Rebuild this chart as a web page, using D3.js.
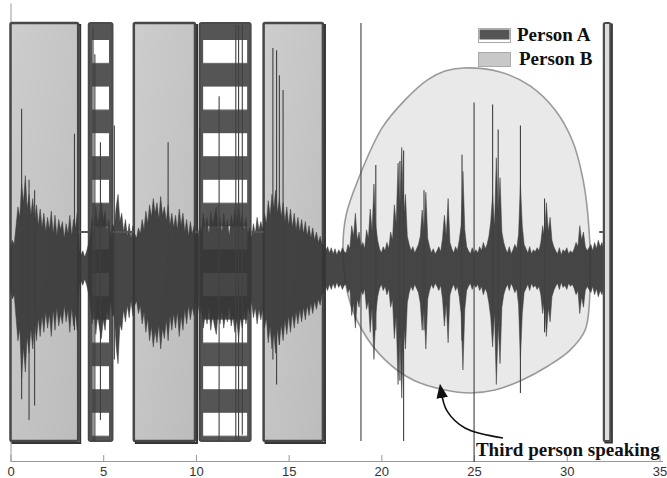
<!DOCTYPE html>
<html><head><meta charset="utf-8">
<script src="https://cdn.jsdelivr.net/npm/d3@7"></script>
<style>html,body{margin:0;padding:0;background:#fff;} svg{display:block}</style>
</head><body><svg id="c" width="667" height="478"></svg>
<script>
// ---------------- data ----------------
const xTicks = [0, 5, 10, 15, 20, 25, 30, 35];
const yTicks = [-1, -0.8, -0.6, -0.4, -0.2, 0, 0.2, 0.4, 0.6, 0.8, 1];
const legendLabels = ["Person A", "Person B"];
const annotationText = "Third person speaking";

// speaker label segments [start s, end s]
const personBSegments = [[0, 3.65], [6.65, 9.95], [13.65, 16.85]];
const personASegments = [[4.22, 5.5], [10.2, 12.95]];
const personANarrow = [[32.0, 32.35]];
const silenceSegments = [[3.65, 4.22], [5.5, 6.65], [9.95, 10.2], [12.95, 13.65], [31.75, 32.0]];

// waveform envelope, one value per 0.1 s from 0 s, amplitude in 1/200 of full scale
const waveStep = 0.1;
const waveCenter = -0.17;
const waveUp = [
 18,26,22,40,58,48,80,62,88,56, 70,50,66,44,60,40,56,38,52,34, 48,36,54,32,50,30,46,36,44,28, 42,32,50,30,46,38,52,
 18,12,16,10,15,22,
 30,48,36,58,40,52,62,44,54,36,46,28,42,
 38,58,70,44,52,34,46,30,42,28,40,32,
 28,38,32,46,36,54,42,60,48,66, 52,62,46,68,50,58,44,60,40,52, 38,50,36,56,40,52,34,46,30,44, 32,40,30,
 28,40,34,52,38,48,32,54,40,50, 58,36,48,34,52,38,46,30,50,40, 56,44,62,42,52,36,48,32,38,
 28,42,32,48,36,44,
 36,52,42,64,50,70,56,74,52,66, 48,62,44,58,40,56,38,52,36,48, 34,46,32,44,30,40,28,38,26,34, 24,30,22,
 22,16,20,14,19,13,18,12,17,14,19,15,
 14,22,18,40,30,52,26,34,20,
 24,18,36,28,56,34,80,40,26,18,
 14,20,16,24,18,34,26,
 60,42,100,55,115,48,70,30,22,
 16,20,14,18,22,
 30,55,34,72,28,20,
 14,18,13,16,20,15,
 28,50,30,66,24,18,
 14,20,16,26,
 40,92,36,20,
 16,13,19,14,17,
 14,20,16,24,18,22,30,
 44,70,38,105,50,86,34,24,
 18,14,20,13,17,22,18,
 32,80,40,22,
 18,14,20,13,17,15,19,16,
 24,40,28,62,34,48,26,20,
 16,13,19,12,17,15,19,13,16,14,
 18,24,20,40,26,34,20,16,19,
 22,16,24,18,26,20,24,16,20,14,10
];
const waveDown = [
 20,30,26,48,70,58,105,76,100,66, 82,58,78,52,70,48,66,46,62,42, 58,44,66,40,60,38,56,44,54,36, 52,40,62,38,56,44,60,
 18,13,17,11,16,24,
 34,54,40,64,46,58,68,50,60,40,50,32,46,
 46,76,92,54,60,40,52,36,48,32,46,36,
 32,44,36,54,42,62,48,70,56,76, 60,72,54,78,58,68,50,70,46,60, 44,58,42,66,46,60,40,54,36,50, 38,46,34,
 34,46,40,58,44,54,38,60,46,56, 64,42,54,40,58,44,52,36,56,46, 62,50,68,48,58,42,54,38,44,
 32,48,38,54,40,50,
 40,58,48,72,56,78,62,82,58,74, 54,70,50,64,46,62,44,58,42,54, 40,52,38,50,36,46,34,44,32,40, 30,36,26,
 24,18,22,16,21,15,20,14,19,16,21,17,
 16,24,20,46,34,58,30,38,22,
 26,20,40,32,62,38,88,44,28,20,
 16,22,18,26,20,38,30,
 68,46,112,60,125,54,78,34,24,
 18,22,16,20,24,
 34,60,38,78,30,22,
 16,20,15,18,22,17,
 30,56,34,72,26,20,
 16,22,18,28,
 44,98,40,22,
 18,15,21,16,19,
 16,22,18,26,20,24,34,
 48,76,42,112,54,92,38,26,
 20,16,22,15,19,24,20,
 36,88,44,24,
 20,16,22,15,19,17,21,18,
 26,44,30,66,38,52,28,22,
 18,15,21,14,19,17,21,15,18,16,
 20,26,22,44,28,38,22,18,21,
 24,18,26,20,28,22,26,18,22,16,12
];
const AMP_SCALE = 0.005;

// isolated tall peaks: [time s, top value, bottom value]
const spikes = [
 [0.6, 0.59, -0.80], [1.0, 0.25, -0.90], [1.3, 0.20, -0.83], [3.45, 0.47, -0.47],
 [4.45, 0.98, -1.0], [4.55, 0.85, -1.0], [4.85, 0.43, -0.90], [5.6, 0.51, -0.61],
 [8.5, 0.43, -0.47], [10.2, 0.50, -0.80], [11.25, 0.65, -1.0],
 [12.15, 0.99, -1.0], [12.3, 0.99, -1.0], [12.5, 0.99, -0.97],
 [14.15, 0.88, -0.61], [14.35, 0.87, -0.73], [14.5, 0.75, -0.54], [14.7, 0.68, -0.49],
 [18.9, 1.0, -1.0], [19.7, 0.32, -0.47], [21.0, 0.34, -0.71], [21.2, 0.39, -1.0],
 [22.3, 0.20, -0.47], [24.35, 0.37, -0.52], [25.0, 0.62, -1.10], [26.0, 0.61, -0.49],
 [26.3, 0.49, -0.42], [27.5, 0.51, -0.77], [28.8, 0.16, -0.48]
];

// third-person region outline [time s, value]
const thirdPersonOutline = [
 [24.41,0.785],[26.40,0.766],[28.02,0.699],[29.37,0.584],[30.29,0.44],[30.88,0.249],
 [31.20,0.01],[31.25,-0.278],[30.99,-0.469],[30.18,-0.565],[28.99,-0.641],[27.48,-0.713],
 [26.13,-0.756],[24.78,-0.770],[23.44,-0.756],[21.71,-0.708],[20.20,-0.612],[18.96,-0.469],
 [18.20,-0.301],[17.93,-0.086],[18.10,0.081],[18.74,0.249],[20.04,0.498],[21.28,0.632],
 [22.47,0.727],[23.43,0.770]
];
const arrowPath = [[26.56,-0.986],[24.51,-0.938],[23.54,-0.856],[23.22,-0.760]];
const annotationAt = [25.1, -1.072];

// ---------------- drawing ----------------
const svg = d3.select("#c");
const xs = d3.scaleLinear().domain([0, 35]).range([10.5, 659.5]);
const ys = d3.scaleLinear().domain([-1.0957, 1.0957]).range([461, 3]);
const defs = svg.append("defs");

const gB = defs.append("linearGradient").attr("id","gB").attr("x1","0").attr("y1","0").attr("x2","1").attr("y2","1");
gB.append("stop").attr("offset","0").attr("stop-color","#cdcdcd");
gB.append("stop").attr("offset","1").attr("stop-color","#bcbcbc");

const pat = defs.append("pattern").attr("id","stripes").attr("patternUnits","userSpaceOnUse")
  .attr("x",0).attr("y",40).attr("width",10).attr("height",46.6);
pat.append("rect").attr("x",0).attr("y",0).attr("width",10).attr("height",23).attr("fill","#fff");

const mk = defs.append("marker").attr("id","arr").attr("viewBox","0 0 10 10").attr("refX",5).attr("refY",5)
  .attr("markerWidth",9).attr("markerHeight",9).attr("orient","auto");
mk.append("path").attr("d","M0,1 L10,5 L0,9 Z").attr("fill","#111");

// axes
const xAxis = d3.axisBottom(xs).tickValues(xTicks).tickSizeInner(-6).tickSizeOuter(0).tickPadding(6);
const gx = svg.append("g").attr("transform","translate(0,461)").call(xAxis);
gx.select(".domain").attr("stroke","#999").attr("d","M10.5,0.5H663");
gx.selectAll(".tick line").attr("stroke","#999");
gx.selectAll(".tick text").attr("fill","#333").style("font-family","'Liberation Sans', Arial, sans-serif").style("font-size","13px");

const yAxis = d3.axisLeft(ys).tickValues(yTicks).tickSizeInner(-6).tickSizeOuter(0).tickFormat("");
const gy = svg.append("g").attr("transform","translate(10.5,0)").call(yAxis);
gy.select(".domain").attr("stroke","#999");
gy.selectAll(".tick line").attr("stroke","#888");

// Person B boxes
const bG = svg.append("g");
personBSegments.forEach(([a,b]) => {
  bG.append("rect").attr("x",xs(a)+2).attr("y",ys(1)+2).attr("width",xs(b)-xs(a)).attr("height",ys(-1)-ys(1))
    .attr("fill","none").attr("stroke","#333").attr("stroke-width",2);
  bG.append("rect").attr("x",xs(a)).attr("y",ys(1)).attr("width",xs(b)-xs(a)).attr("height",ys(-1)-ys(1))
    .attr("rx",1.5).attr("fill","url(#gB)").attr("stroke","#474747").attr("stroke-width",2.5);
});

// Person A boxes
const aG = svg.append("g");
personASegments.forEach(([a,b]) => {
  const x0 = xs(a), w = xs(b)-xs(a), y0 = ys(1), h = ys(-1)-ys(1);
  aG.append("rect").attr("x",x0).attr("y",y0).attr("width",w).attr("height",h).attr("rx",2)
    .attr("fill","#555");
  aG.append("rect").attr("x",x0+3.5).attr("y",y0).attr("width",w-7).attr("height",h)
    .attr("fill","url(#stripes)");
  aG.append("rect").attr("x",x0).attr("y",y0).attr("width",w).attr("height",h).attr("rx",2)
    .attr("fill","none").attr("stroke","#4a4a4a").attr("stroke-width",2);
});

// third person blob
svg.append("path").datum(thirdPersonOutline)
  .attr("d", d3.line().x(d=>xs(d[0])).y(d=>ys(d[1])).curve(d3.curveCatmullRomClosed))
  .attr("fill","#e9e9e9").attr("stroke","#9a9a9a").attr("stroke-width",1.6);

// waveform
const area = d3.area()
  .x((d,i)=>xs(i*waveStep))
  .y1((d,i)=>ys(waveCenter + waveUp[i]*AMP_SCALE))
  .y0((d,i)=>ys(waveCenter - waveDown[i]*AMP_SCALE));
svg.append("path").datum(waveUp).attr("d", area).attr("fill","#363636").attr("fill-opacity",0.92)
  .attr("stroke","#3a3a3a").attr("stroke-width",0.5);

// narrow Person A segment at the end (drawn over the waveform end)
const nG = svg.append("g");
personANarrow.forEach(([a,b]) => {
  nG.append("rect").attr("x",xs(a)+1.5).attr("y",ys(1)+1.5).attr("width",xs(b)-xs(a)).attr("height",ys(-1)-ys(1))
    .attr("fill","none").attr("stroke","#333").attr("stroke-width",2);
  nG.append("rect").attr("x",xs(a)).attr("y",ys(1)).attr("width",xs(b)-xs(a)).attr("height",ys(-1)-ys(1))
    .attr("rx",1.5).attr("fill","#ddd").attr("stroke","#4a4a4a").attr("stroke-width",2.2);
});

// silence label line
svg.append("g").selectAll("line").data(silenceSegments).join("line")
  .attr("x1",d=>xs(d[0])).attr("x2",d=>xs(d[1])).attr("y1",ys(0)).attr("y2",ys(0))
  .attr("stroke","#555").attr("stroke-width",2);

// spikes
svg.append("g").selectAll("line").data(spikes).join("line")
  .attr("x1",d=>xs(d[0])).attr("x2",d=>xs(d[0])).attr("y1",d=>ys(d[1])).attr("y2",d=>ys(d[2]))
  .attr("stroke","#404040").attr("stroke-width",1.1);

// annotation
svg.append("path").datum(arrowPath)
  .attr("d", d3.line().x(d=>xs(d[0])).y(d=>ys(d[1])).curve(d3.curveCatmullRom))
  .attr("fill","none").attr("stroke","#111").attr("stroke-width",1.6).attr("marker-end","url(#arr)");
svg.append("text").attr("x",xs(annotationAt[0])).attr("y",ys(annotationAt[1]))
  .text(annotationText).attr("fill","#111")
  .style("font-family","'Liberation Serif', 'Times New Roman', serif").style("font-weight","bold").style("font-size","19px");

// legend
const lg = svg.append("g");
lg.append("rect").attr("x",478.5).attr("y",28.5).attr("width",32).attr("height",14).attr("fill","#fff").attr("stroke","#aaa");
lg.append("rect").attr("x",479.5).attr("y",29.5).attr("width",30).attr("height",10).attr("fill","#555");
lg.append("rect").attr("x",478.5).attr("y",52.5).attr("width",32).attr("height",14).attr("fill","#c8c8c8").attr("stroke","#aaa");
lg.selectAll("text").data(legendLabels).join("text")
  .attr("x",(d,i)=>i===0?517:519).attr("y",(d,i)=>i===0?41:65).text(d=>d).attr("fill","#111")
  .style("font-family","'Liberation Serif', 'Times New Roman', serif").style("font-weight","bold").style("font-size","19px");
</script></body></html>
